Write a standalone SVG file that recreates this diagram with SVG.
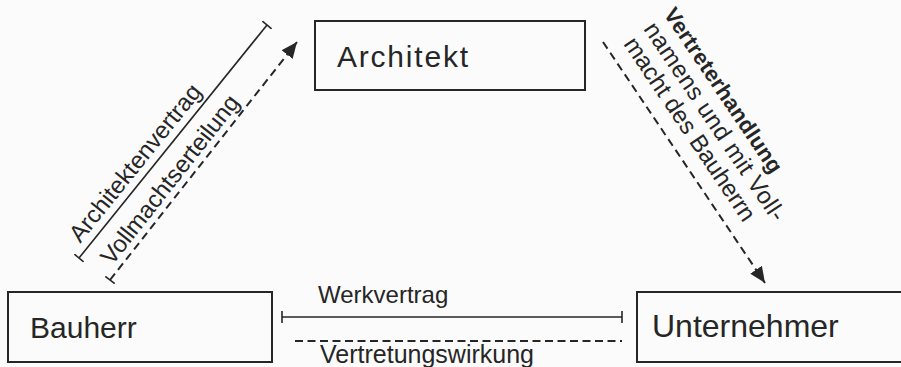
<svg xmlns="http://www.w3.org/2000/svg" width="901" height="367" viewBox="0 0 901 367">
<defs>
<style>
.box{fill:none;stroke:#262626;stroke-width:2}
.lbl{font-family:"Liberation Sans",Arial,sans-serif;fill:#262626}
.solid{fill:none;stroke:#262626;stroke-width:1.6}
.dash{fill:none;stroke:#262626;stroke-width:2;stroke-dasharray:8 5}
</style>
<marker id="tick" markerUnits="userSpaceOnUse" markerWidth="4" markerHeight="12" refX="2" refY="6" orient="auto" viewBox="0 0 4 12"><path d="M2,0 L2,12" stroke="#262626" stroke-width="1.6"/></marker>
<marker id="arrow" markerUnits="userSpaceOnUse" markerWidth="16" markerHeight="14" refX="16" refY="7" orient="auto" viewBox="0 0 16 14"><path d="M0,0 L16,7 L0,14 z" fill="#262626"/></marker>
</defs>
<rect width="901" height="367" fill="#fbfbfb"/>
<g id="architekt"><rect class="box" x="315" y="21" width="270" height="69"/><text class="lbl" x="337" y="67" font-size="30" textLength="131" lengthAdjust="spacing">Architekt</text></g>
<g id="bauherr"><rect class="box" x="8" y="292" width="264" height="70"/><text class="lbl" x="30" y="338" font-size="30">Bauherr</text></g>
<g id="unternehmer"><rect class="box" x="637" y="292" width="270" height="70"/><text class="lbl" x="652" y="337" font-size="32">Unternehmer</text></g>
<g id="connectors">
<path class="solid" d="M79,258 L267,25" marker-start="url(#tick)" marker-end="url(#tick)"/>
<path class="dash" d="M110,280 L297,42" marker-start="url(#tick)" marker-end="url(#arrow)"/>
<path class="dash" d="M603,42 L765,283" marker-end="url(#arrow)"/>
<path class="solid" d="M282,317 L622,317" marker-start="url(#tick)" marker-end="url(#tick)"/>
<path class="dash" d="M295,341 L622,341" style="stroke-dasharray:8 4.5"/>
<text class="lbl" font-size="24" transform="translate(80.3,243.7) rotate(-51.1)">Architektenvertrag</text>
<text class="lbl" font-size="24" transform="translate(111.9,266.3) rotate(-51.8)">Vollmachtserteilung</text>
<text class="lbl" font-size="22" font-weight="bold" textLength="194" lengthAdjust="spacing" transform="translate(663,14) rotate(56.1)">Vertreterhandlung</text>
<text class="lbl" font-size="24" textLength="234" lengthAdjust="spacing" transform="translate(643,29) rotate(56.1)">namens und mit Voll-</text>
<text class="lbl" font-size="24" transform="translate(623,44) rotate(56.1)">macht des Bauherrn</text>
<text class="lbl" x="318" y="303" font-size="24">Werkvertrag</text>
<text class="lbl" x="320" y="363" font-size="25">Vertretungswirkung</text>
</g>
</svg>
